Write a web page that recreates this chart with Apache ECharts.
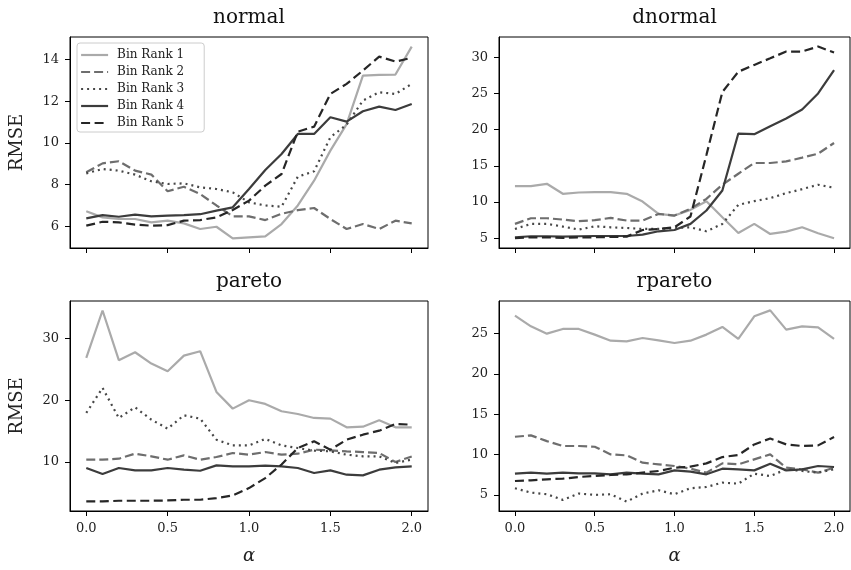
<!DOCTYPE html>
<html>
<head>
<meta charset="utf-8">
<script src="https://cdn.jsdelivr.net/npm/echarts@6/dist/echarts.min.js"></script>
<style>
  html, body { margin: 0; padding: 0; background: #fff; }
  #chart { width: 851px; height: 570px; }
</style>
</head>
<body>
<div id="chart"></div>
<script>
// ---------- data ----------
const alphas = [0.0,0.1,0.2,0.3,0.4,0.5,0.6,0.7,0.8,0.9,1.0,1.1,1.2,1.3,1.4,1.5,1.6,1.7,1.8,1.9,2.0];
const seriesNames = ['Bin Rank 1','Bin Rank 2','Bin Rank 3','Bin Rank 4','Bin Rank 5'];
const panelTitles = ['normal','dnormal','pareto','rpareto'];
const xTickValues = [0.0, 0.5, 1.0, 1.5, 2.0];
const yTicksNormal = [6, 8, 10, 12, 14];
const yTicksDnormal = [5, 10, 15, 20, 25, 30];
const yTicksPareto = [10, 20, 30];
const yTicksRpareto = [5, 10, 15, 20, 25];

const normalR1 = [6.72,6.43,6.35,6.35,6.19,6.27,6.14,5.87,5.98,5.42,5.47,5.52,6.11,7.0,8.19,9.63,10.9,13.23,13.26,13.28,14.62];
const normalR2 = [8.59,9.02,9.12,8.67,8.48,7.68,7.9,7.55,7.0,6.48,6.48,6.3,6.6,6.78,6.88,6.35,5.87,6.11,5.87,6.27,6.14];
const normalR3 = [8.54,8.75,8.67,8.48,8.16,8.03,8.06,7.87,7.79,7.63,7.15,7.0,6.94,8.38,8.64,10.27,10.88,12.03,12.43,12.35,12.83];
const normalR4 = [6.38,6.54,6.46,6.56,6.48,6.51,6.54,6.58,6.75,6.91,7.79,8.7,9.47,10.43,10.43,11.23,11.02,11.52,11.74,11.58,11.87];
const normalR5 = [6.03,6.22,6.19,6.08,6.03,6.06,6.27,6.3,6.43,6.78,7.23,7.95,8.51,10.54,10.78,12.35,12.83,13.47,14.14,13.9,14.08];

const dnormalR1 = [12.2,12.2,12.52,11.14,11.32,11.37,11.37,11.14,10.07,8.36,8.13,8.92,10.12,7.9,5.73,6.98,5.59,5.91,6.51,5.68,4.99];
const dnormalR2 = [6.98,7.76,7.76,7.58,7.35,7.49,7.81,7.44,7.44,8.36,8.13,9.06,10.44,12.39,13.91,15.39,15.39,15.62,16.13,16.68,18.16];
const dnormalR3 = [6.28,6.98,6.98,6.61,6.19,6.65,6.51,6.42,6.28,6.28,6.42,6.51,5.96,6.98,9.61,10.12,10.54,11.23,11.78,12.39,11.97];
const dnormalR4 = [5.13,5.27,5.27,5.22,5.27,5.31,5.31,5.31,5.5,5.96,6.14,6.98,8.83,11.6,19.46,19.37,20.48,21.54,22.79,25.0,28.24];
const dnormalR5 = [5.0,5.13,5.13,5.04,5.13,5.13,5.17,5.22,6.14,6.28,6.51,8.0,16.5,25.2,28.0,28.94,29.86,30.79,30.79,31.48,30.65];

const paretoR1 = [26.86,34.54,26.49,27.78,25.95,24.7,27.24,27.95,21.35,18.65,20.0,19.41,18.22,17.78,17.14,17.03,15.62,15.73,16.76,15.62,15.62];
const paretoR2 = [10.38,10.38,10.54,11.35,10.92,10.38,11.08,10.38,10.81,11.46,11.19,11.62,11.19,11.35,12.0,11.89,11.73,11.62,11.46,10.0,10.9];
const paretoR3 = [17.95,22.0,17.14,18.86,16.86,15.41,17.57,17.03,13.62,12.7,12.7,13.73,12.7,12.27,11.84,11.73,11.19,10.92,10.92,9.84,10.4];
const paretoR4 = [9.03,8.05,9.03,8.65,8.65,9.03,8.76,8.59,9.46,9.3,9.3,9.41,9.3,9.03,8.22,8.65,7.95,7.84,8.76,9.14,9.3];
const paretoR5 = [3.62,3.62,3.73,3.73,3.73,3.78,3.89,3.89,4.16,4.59,5.78,7.4,9.6,12.27,13.35,12.0,13.62,14.43,15.08,16.16,16.05];

const rparetoR1 = [27.23,25.91,25.0,25.58,25.58,24.88,24.13,24.05,24.46,24.17,23.84,24.13,24.88,25.83,24.34,27.15,27.89,25.5,25.91,25.78,24.34];
const rparetoR2 = [12.21,12.38,11.67,11.06,11.06,10.97,10.02,9.9,8.99,8.79,8.58,8.25,7.76,8.91,8.79,9.41,10.02,8.37,8.17,7.76,8.37];
const rparetoR3 = [5.82,5.28,5.08,4.38,5.16,5.0,5.08,4.17,5.16,5.57,5.08,5.82,5.98,6.52,6.39,7.63,7.34,8.17,7.96,7.76,8.17];
const rparetoR4 = [7.63,7.76,7.63,7.76,7.67,7.67,7.55,7.76,7.63,7.55,8.04,7.88,7.55,8.25,8.17,8.04,8.87,8.04,8.17,8.58,8.46];
const rparetoR5 = [6.72,6.81,6.93,7.01,7.22,7.34,7.47,7.55,7.76,7.96,8.37,8.5,8.91,9.69,9.94,11.26,12.0,11.26,11.06,11.14,12.17];

// ---------- layout / style ----------
const FONT = 'DejaVu Serif';
const panels = [
  { data: [normalR1, normalR2, normalR3, normalR4, normalR5], yMin: 4.96, yMax: 15.08, yTicks: yTicksNormal,
    grid: { left: 70, top: 37, width: 358, height: 211 }, xLabels: false, yName: true },
  { data: [dnormalR1, dnormalR2, dnormalR3, dnormalR4, dnormalR5], yMin: 3.65, yMax: 32.8, yTicks: yTicksDnormal,
    grid: { left: 499, top: 37, width: 351, height: 211 }, xLabels: false, yName: false },
  { data: [paretoR1, paretoR2, paretoR3, paretoR4, paretoR5], yMin: 2.07, yMax: 36.08, yTicks: yTicksPareto,
    grid: { left: 70, top: 301, width: 358, height: 210 }, xLabels: true, yName: true },
  { data: [rparetoR1, rparetoR2, rparetoR3, rparetoR4, rparetoR5], yMin: 3.0, yMax: 29.05, yTicks: yTicksRpareto,
    grid: { left: 499, top: 301, width: 351, height: 210 }, xLabels: true, yName: false }
];
const lineStyles = [
  { color: '#aaaaaa', type: 'solid' },
  { color: '#6e6e6e', type: [9, 4] },
  { color: '#474747', type: [2, 4] },
  { color: '#3c3c3c', type: 'solid' },
  { color: '#262626', type: [9, 4.5] }
];

const grids = [], xAxes = [], yAxes = [], series = [], graphics = [];
panels.forEach((p, i) => {
  grids.push(Object.assign({ show: true, borderColor: '#000', borderWidth: 1, backgroundColor: 'transparent' }, p.grid));
  xAxes.push({
    type: 'value', gridIndex: i, min: -0.1, max: 2.1,
    axisLine: { show: true, onZero: false, lineStyle: { color: '#000', width: 1 } },
    axisTick: { show: true, length: 5, customValues: xTickValues, lineStyle: { color: '#000', width: 1 } },
    axisLabel: { show: p.xLabels, customValues: xTickValues, margin: 11,
      formatter: v => Number(v).toFixed(1), fontFamily: FONT, fontSize: 13, color: '#222' },
    splitLine: { show: false },
    name: p.xLabels ? 'α' : '', nameLocation: 'middle', nameGap: 36,
    nameTextStyle: { fontFamily: FONT, fontSize: 18, fontStyle: 'italic', color: '#222' }
  });
  yAxes.push({
    type: 'value', gridIndex: i, min: p.yMin, max: p.yMax,
    axisLine: { show: true, onZero: false, lineStyle: { color: '#000', width: 1 } },
    axisTick: { show: true, length: 5, customValues: p.yTicks, lineStyle: { color: '#000', width: 1 } },
    axisLabel: { show: true, customValues: p.yTicks, margin: 11,
      formatter: v => String(Math.round(v)), fontFamily: FONT, fontSize: 13, color: '#222' },
    splitLine: { show: false },
    name: p.yName ? 'RMSE' : '', nameLocation: 'middle', nameGap: 44,
    nameTextStyle: { fontFamily: FONT, fontSize: 18, color: '#222' }
  });
  p.data.forEach((vals, k) => {
    series.push({
      name: seriesNames[k], type: 'line', xAxisIndex: i, yAxisIndex: i,
      data: alphas.map((a, j) => [a, vals[j]]),
      showSymbol: false, symbol: 'none', animation: false,
      lineStyle: { color: lineStyles[k].color, type: lineStyles[k].type, width: 2.2, cap: 'butt' },
      itemStyle: { color: lineStyles[k].color },
      z: 2 + k
    });
  });
  graphics.push({
    type: 'text', x: p.grid.left + p.grid.width / 2, y: p.grid.top - 19,
    style: { text: panelTitles[i], font: '20px "' + FONT + '"', fill: '#111',
      textAlign: 'center', textVerticalAlign: 'middle' }
  });
});

const chart = echarts.init(document.getElementById('chart'), null, { renderer: 'canvas' });
chart.setOption({
  backgroundColor: '#fff',
  animation: false,
  grid: grids,
  xAxis: xAxes,
  yAxis: yAxes,
  series: series,
  graphic: graphics,
  legend: {
    show: true,
    data: seriesNames, orient: 'vertical', left: 77, top: 43,
    itemWidth: 27, itemHeight: 14, itemGap: 3,
    padding: [5, 20, 2, 3],
    itemStyle: { opacity: 0 },
    lineStyle: { width: 2.2 },
    backgroundColor: 'rgba(255,255,255,0.8)', borderColor: '#cccccc', borderWidth: 1, borderRadius: 3,
    textStyle: { fontFamily: FONT, fontSize: 12, color: '#222', lineHeight: 14, padding: [0, 0, 0, 4] },
    selectedMode: false,
    z: 10
  }
});
</script>
</body>
</html>
